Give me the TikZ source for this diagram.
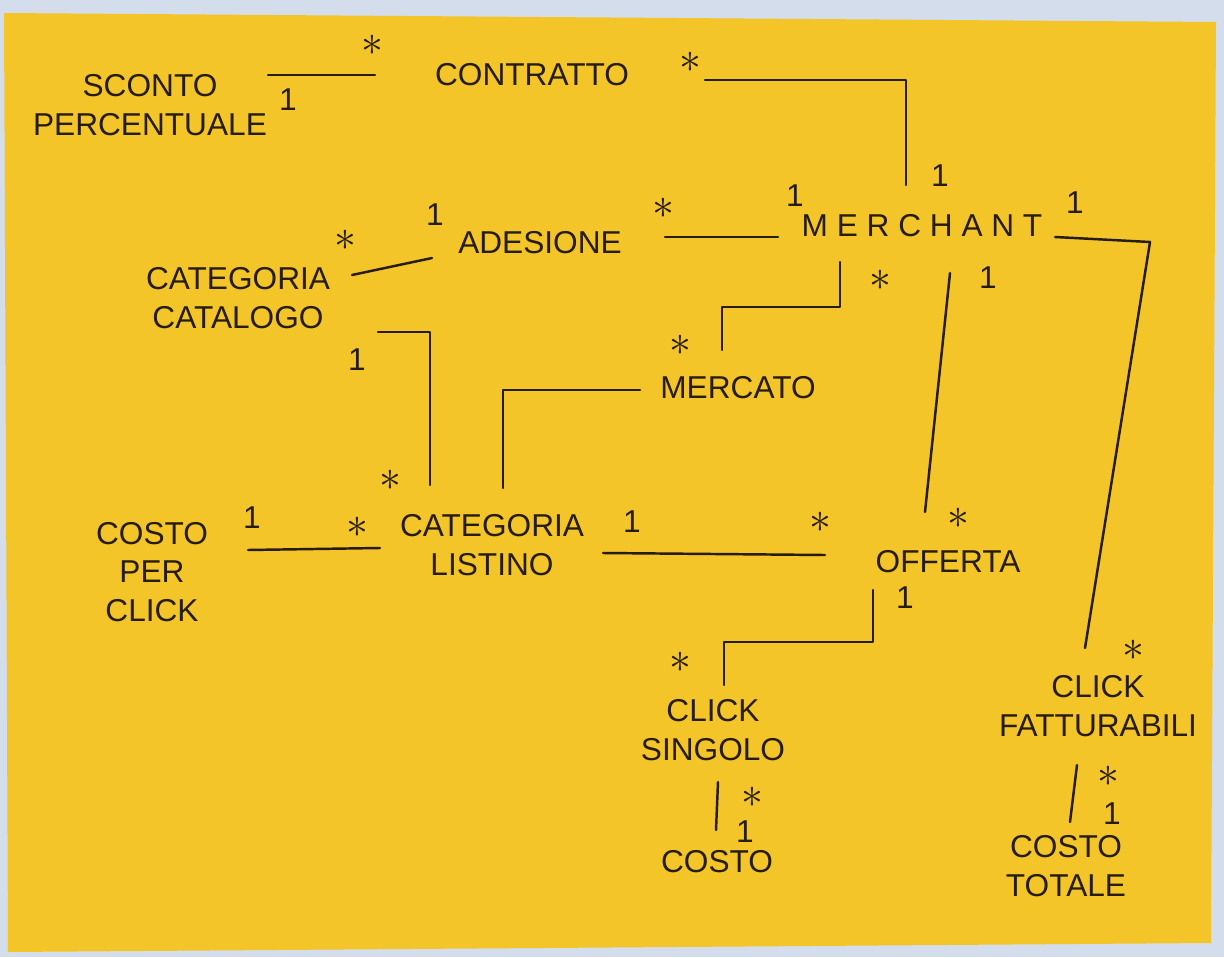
\documentclass[tikz,border=0pt]{standalone}
\usepackage{fontspec}
\setmainfont{Liberation Sans}
\usepackage{tikz}
\usetikzlibrary{calc}
\definecolor{paper}{RGB}{243,197,40}
\definecolor{wall}{RGB}{212,221,236}
\definecolor{ink}{RGB}{38,28,18}
\newcommand{\many}{{\fontsize{26}{26}\selectfont$\ast$}}

\begin{document}
\begin{tikzpicture}[x=0.02cm,y=-0.02cm, every node/.style={text=ink}]
		\tikzstyle{entity}=[font=\fontsize{18}{22}\selectfont, align=center, inner sep=1pt]
		\tikzstyle{mult}=[font=\fontsize{18}{22}\selectfont, inner sep=0pt]
		\tikzstyle{assoc}=[draw=ink, line width=1.4pt, line cap=round, line join=round]

		% Sheet of paper
		\useasboundingbox (0,0) rectangle (1224,957);
		\fill[wall] (0,0) rectangle (1224,957);
		\fill[paper] (4,13) -- (1216,22) -- (1211,943) -- (8,952) -- cycle;

		% Draw the classes
		\node[entity] (sconto) at (150,105) {SCONTO\\PERCENTUALE};
		\node[entity] (contratto) at (532,75) {CONTRATTO};
		\node[entity] (adesione) at (540,243) {ADESIONE};
		\node[entity] (merchant) at (922,226) {M E R C H A N T};
		\node[entity] (catalogo) at (238,298) {CATEGORIA\\CATALOGO};
		\node[entity] (mercato) at (738,388) {MERCATO};
		\node[entity] (costoclick) at (152,572) {COSTO\\PER\\CLICK};
		\node[entity] (listino) at (492,545) {CATEGORIA\\LISTINO};
		\node[entity] (offerta) at (948,562) {OFFERTA};
		\node[entity] (singolo) at (713,730) {CLICK\\SINGOLO};
		\node[entity] (costo) at (717,862) {COSTO};
		\node[entity] (fatturabili) at (1098,706) {CLICK\\FATTURABILI};
		\node[entity] (totale) at (1066,866) {COSTO\\TOTALE};

		% Draw associations
		\draw[assoc] ($(sconto)+(118,-30)$) -- ($(contratto)+(-157,0)$);
		\draw[assoc] ($(contratto)+(173,5)$) -| ($(merchant)+(-16,-41)$);
		\draw[assoc] ($(adesione)+(125,-6)$) -- ($(merchant)+(-144,11)$);
		\draw[assoc] ($(catalogo)+(114,-23)$) -- ($(adesione)+(-108,15)$);
		\draw[assoc] ($(catalogo)+(140,34)$) -| ($(listino)+(-62,-60)$);
		\draw[assoc] ($(mercato)+(-98,2)$) -| ($(listino)+(11,-57)$);
		\draw[assoc] ($(merchant)+(-82,36)$) |- ($(mercato)+(-16,-81)$) -- ($(mercato)+(-16,-38)$);
		\draw[assoc] ($(merchant)+(28,47)$) -- ($(offerta)+(-23,-50)$);
		\draw[assoc] ($(listino)+(111,8)$) -- ($(offerta)+(-123,-7)$);
		\draw[assoc] ($(costoclick)+(96,-22)$) -- ($(listino)+(-112,3)$);
		\draw[assoc] ($(offerta)+(-75,28)$) |- ($(singolo)+(11,-88)$) -- ($(singolo)+(11,-45)$);
		\draw[assoc] ($(merchant)+(133,11)$) -- ($(merchant)+(228,16)$) -- ($(fatturabili)+(-13,-58)$);
		\draw[assoc] ($(singolo)+(5,52)$) -- ($(costo)+(-1,-32)$);
		\draw[assoc] ($(fatturabili)+(-21,59)$) -- ($(totale)+(4,-44)$);

		% Multiplicities
		\node[mult] (m1a) at (372,45) {\many};
		\node[mult] (m1b) at (288,100) {1};
		\node[mult] (m2a) at (690,62) {\many};
		\node[mult] (m2b) at (940,176) {1};
		\node[mult] (m3a) at (663,208) {\many};
		\node[mult] (m3b) at (795,196) {1};
		\node[mult] (m4a) at (345,240) {\many};
		\node[mult] (m4b) at (435,215) {1};
		\node[mult] (m5a) at (357,360) {1};
		\node[mult] (m5b) at (390,480) {\many};
		\node[mult] (m7a) at (880,280) {\many};
		\node[mult] (m7b) at (680,345) {\many};
		\node[mult] (m8a) at (988,278) {1};
		\node[mult] (m8b) at (958,518) {\many};
		\node[mult] (m9a) at (632,522) {1};
		\node[mult] (m9b) at (820,522) {\many};
		\node[mult] (m10a) at (252,518) {1};
		\node[mult] (m10b) at (357,527) {\many};
		\node[mult] (m11a) at (905,598) {1};
		\node[mult] (m11b) at (680,662) {\many};
		\node[mult] (m12a) at (1075,203) {1};
		\node[mult] (m12b) at (1133,650) {\many};
		\node[mult] (m13a) at (752,797) {\many};
		\node[mult] (m13b) at (745,832) {1};
		\node[mult] (m14a) at (1108,776) {\many};
		\node[mult] (m14b) at (1112,814) {1};

\end{tikzpicture}
\end{document}
